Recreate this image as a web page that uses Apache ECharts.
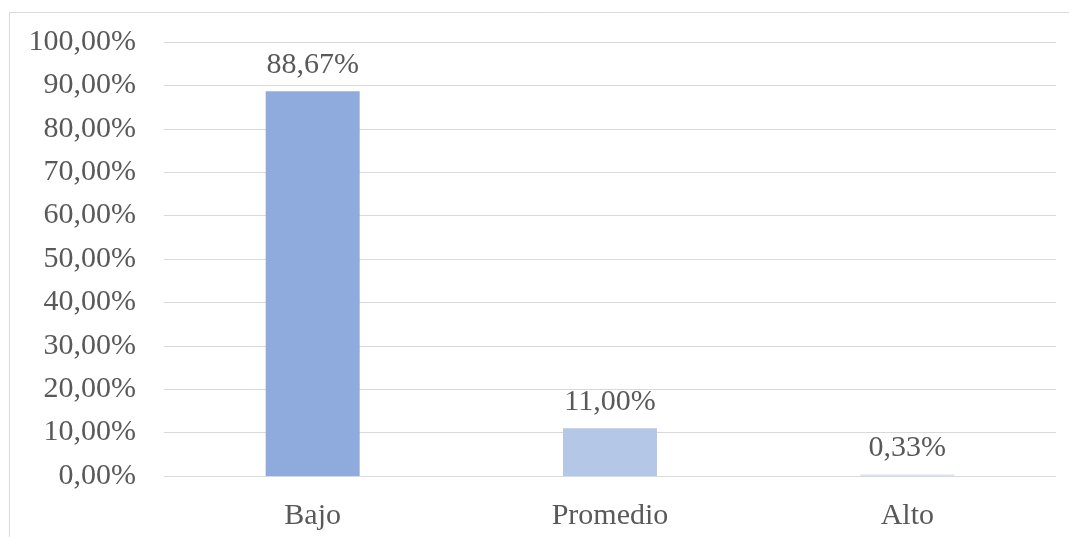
<!DOCTYPE html>
<html>
<head>
<meta charset="utf-8">
<script src="https://cdn.jsdelivr.net/npm/echarts@6/dist/echarts.min.js"></script>
<style>
  html, body { margin: 0; padding: 0; background: #fff; }
  #main { width: 1069px; height: 537px; }
</style>
</head>
<body>
<div id="main"></div>
<script>
const categories = ['Bajo', 'Promedio', 'Alto']
const values = [88.67, 11.00, 0.33]
const barColors = ['#8FAADC', '#B4C7E7', '#DAE3F3']

const chart = echarts.init(document.getElementById('main'))
const fmt = v => v.toFixed(2).replace('.', ',') + '%'
const font = '"Liberation Serif", "Times New Roman", serif'

const option = {
  animation: false,
  textStyle: { fontFamily: font },
  graphic: [{
    type: 'rect',
    shape: { x: 9.5, y: 12.5, width: 1070, height: 540 },
    style: { fill: 'none', stroke: '#d9d9d9', lineWidth: 1 }
  }],
  grid: { left: 164, right: 13, top: 42, bottom: 61 },
  xAxis: {
    type: 'category',
    data: categories,
    axisLine: { show: false },
    axisTick: { show: false },
    axisLabel: { color: '#595959', fontSize: 30, fontFamily: font, margin: 25 }
  },
  yAxis: {
    type: 'value',
    min: 0,
    max: 100,
    interval: 10,
    axisLine: { show: false },
    axisTick: { show: false },
    splitLine: { lineStyle: { color: '#d9d9d9', width: 1 } },
    axisLabel: {
      color: '#595959', fontSize: 30, fontFamily: font, margin: 28,
      formatter: v => fmt(v)
    }
  },
  series: [{
    type: 'bar',
    barWidth: 94,
    data: values.map((v, i) => ({ value: v, itemStyle: { color: barColors[i] } })),
    label: {
      show: true,
      position: 'top',
      distance: 11,
      color: '#595959',
      fontSize: 30,
      fontFamily: font,
      formatter: p => fmt(p.value)
    }
  }]
}
chart.setOption(option)
</script>
</body>
</html>
